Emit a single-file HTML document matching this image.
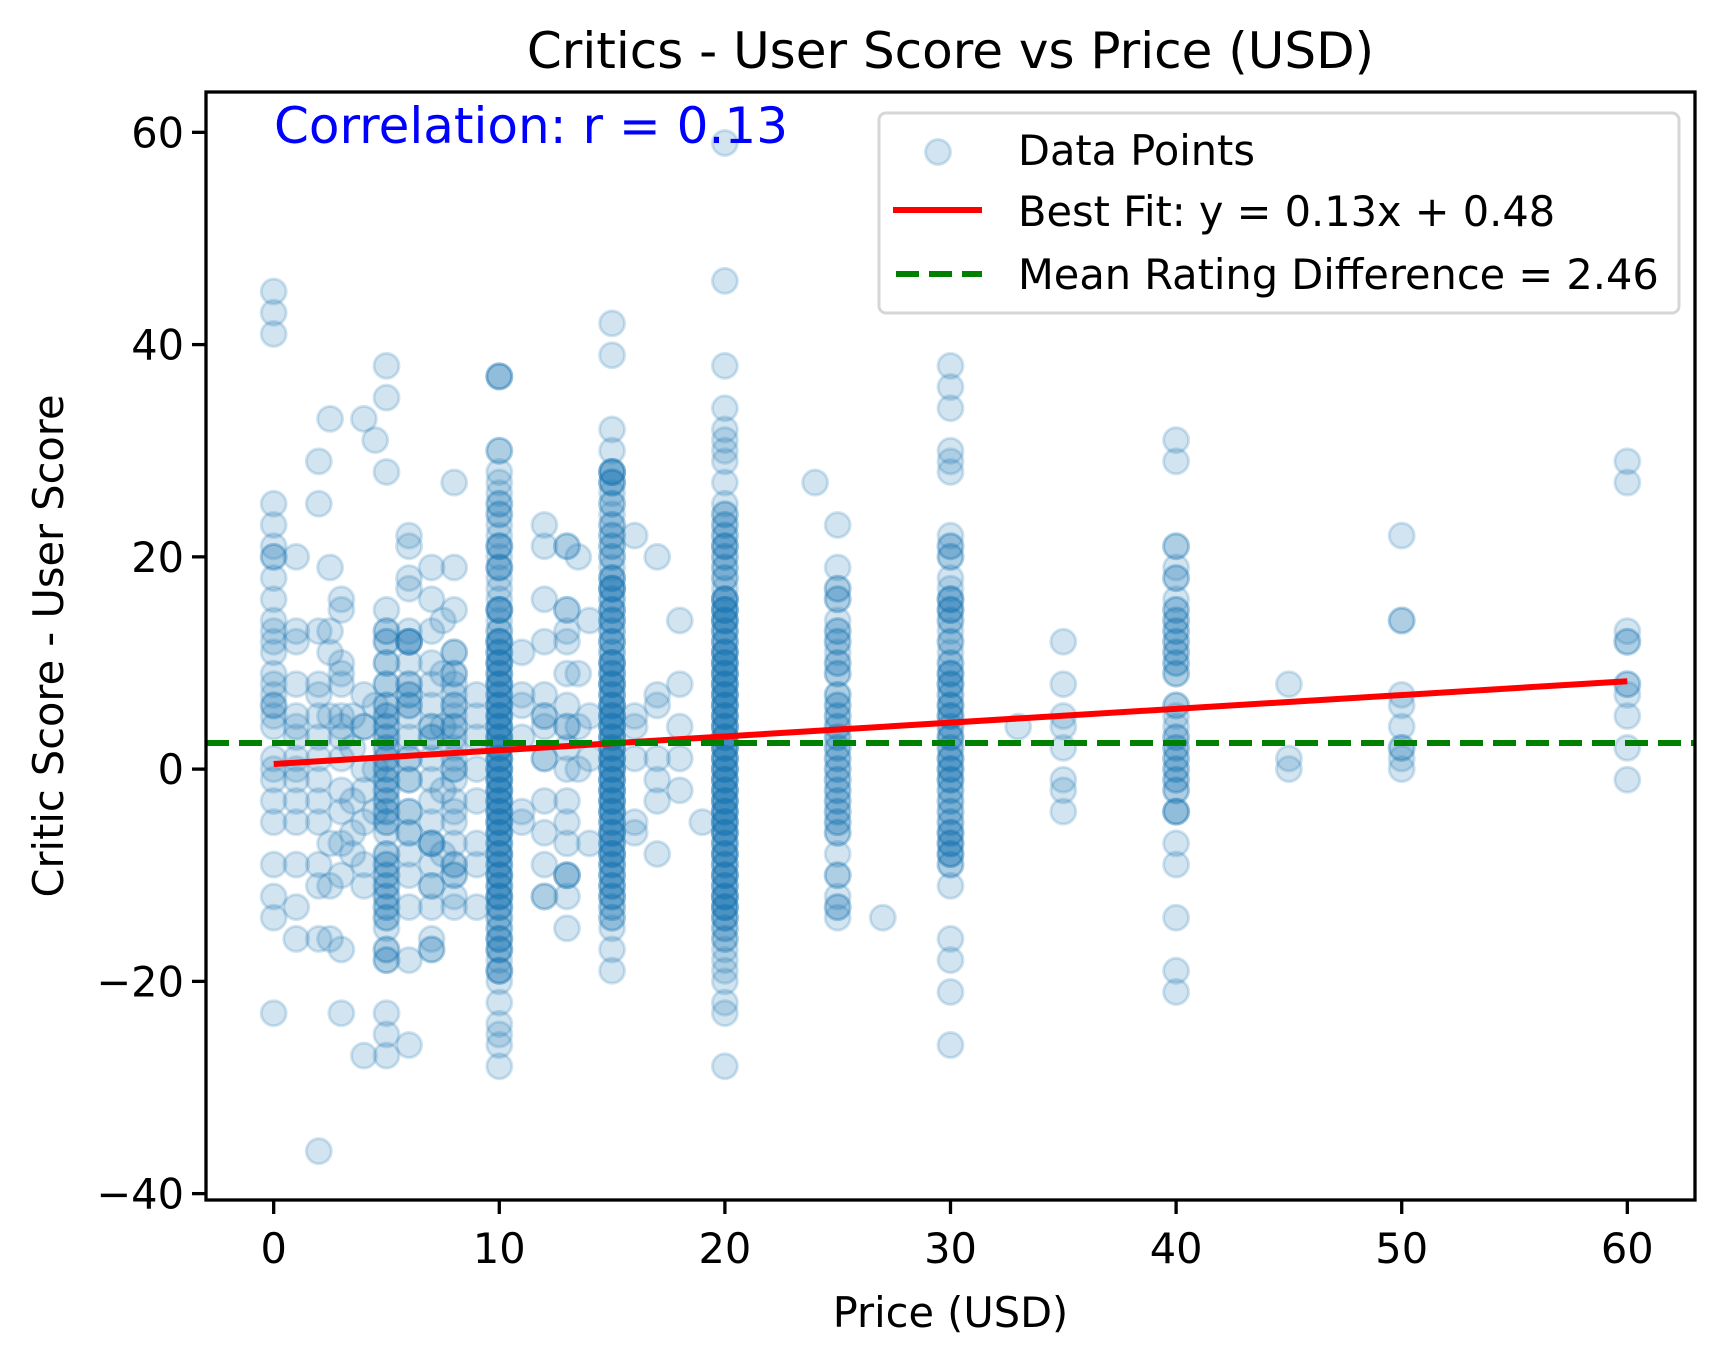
<!DOCTYPE html>
<html><head><meta charset="utf-8"><style>
body{margin:0;background:#fff}
svg text{font-family:"DejaVu Sans","Liberation Sans",sans-serif}
</style></head><body>
<svg id="chart" width="1723" height="1361" viewBox="0 0 1723 1361" xmlns="http://www.w3.org/2000/svg">
<rect width="1723" height="1361" fill="#fff"/>
<g id="points"></g>
<g id="lines"></g>
<g id="axes"></g>
</svg>
<script>
const prices = [0,1,2,2.5,3,3.5,4,4.5,5,6,7,7.5,8,9,10,11,12,13,13.5,14,15,16,17,18,19,20,24,25,27,30,33,35,40,45,50,60];
const scoreDiffs = [
[45,43,41,25,23,21,20,20,18,16,14,13,12,11,9,8,7,6,6,5,4,1,0,-1,-3,-5,-9,-12,-14,-23],
[20,13,12,8,5,4,3,1,0,-1,-3,-5,-9,-13,-16],
[29,25,13,8,7,5,3,1,-1,-3,-5,-9,-11,-16,-36],
[33,19,13,11,5,-7,-11,-16],
[16,15,10,9,8,5,4,3,1,-2,-4,-7,-10,-17,-23],
[5,2,-3,-6,-8],
[33,7,4,4,0,-2,-5,-9,-11,-27],
[31,6,0,-4],
[38,35,28,15,13,12,10,8,6,5,4,3,2,1,0,-1,-2,-3,-4,-5,-6,-8,-9,-10,-11,-12,-13,-14,-15,-17,-18,-23,-25,-27],
[22,21,18,17,13,12,12,10,8,7,6,5,3,1,-1,-4,-6,-8,-10,-13,-18,-26],
[19,16,13,10,8,6,4,3,1,-1,-3,-5,-7,-9,-11,-13,-16,-17],
[14,9,4,-2,-8],
[27,19,15,11,9,7,6,5,4,3,2,1,0,-1,-3,-5,-7,-9,-10,-12,-13],
[7,5,3,0,-3,-7,-9,-13],
[37,37,30,28,27,26,25,24,23,22,21,20,19,18,17,16,15,14,13,12,11,10,9,8,7,6,5,4,3,2,1,0,-1,-2,-3,-4,-5,-6,-7,-8,-9,-10,-11,-12,-13,-14,-15,-16,-17,-18,-19,-20,-22,-24,-25,-26,-28],
[11,7,6,3,-4,-5],
[23,21,16,12,7,5,4,1,-3,-6,-9,-12],
[21,15,13,12,9,6,4,2,0,-3,-5,-7,-10,-12,-15],
[20,9,4,0],
[14,5,1,-7],
[42,39,32,30,28,27,26,25,24,23,22,21,20,19,18,17,16,15,14,13,12,11,10,9,8,7,6,5,4,3,2,1,0,-1,-2,-3,-4,-5,-6,-7,-8,-9,-10,-11,-12,-13,-14,-15,-17,-19],
[22,5,4,1,-5,-6],
[20,7,6,1,-1,-3,-8],
[14,8,4,1,-2],
[-5],
[59,46,38,34,32,31,30,29,27,25,24,23,22,21,20,19,18,17,16,15,14,13,12,11,10,9,8,7,6,5,4,3,2,1,0,-1,-2,-3,-4,-5,-6,-7,-8,-9,-10,-11,-12,-13,-14,-15,-16,-17,-18,-19,-20,-22,-23,-28],
[27],
[23,19,17,16,14,13,12,11,10,9,7,6,5,4,3,2,1,0,-1,-2,-3,-4,-5,-6,-8,-10,-12,-13,-14],
[-14],
[38,36,34,30,29,28,22,21,20,18,17,16,15,14,13,12,11,10,9,8,7,6,5,4,3,2,1,0,-1,-2,-3,-4,-5,-6,-7,-8,-9,-11,-16,-18,-21,-26],
[4],
[12,8,5,4,2,-1,-2,-4],
[31,29,21,19,18,16,15,14,13,12,11,10,9,6,5,4,3,2,1,0,-1,-2,-4,-7,-9,-14,-19,-21],
[8,1,0],
[22,14,7,6,4,2,1,0],
[29,27,13,12,8,7,5,2,-1]
];
// repeated (overlapping) observations in the dense price columns
const extraPrices = [5,10,10,10,15,15,15,20,20,20,25,30,30,40,6,7,8,12,13,50,60];
const extraDiffs = [
[13,12,10,8,6,5,4,3,2,1,0,-1,-2,-3,-4,-5,-8,-9,-10,-11,-12,-13,-14,-17,-18],
[37,30,25,24,21,21,19,19,15,15,13,12,11,10,9,8,7,6,5,4,3,2,1,0,-1,-2,-3,-4,-5,-6,-7,-8,-9,-10,-11,-12,-13,-14,-15,-16,-17,-19],
[15,12,11,10,9,8,7,6,5,4,3,2,1,0,-1,-2,-3,-4,-5,-6,-7,-8,-9,-10,-11,-12,-13,-16,-17,-19],
[12,10,8,6,5,4,3,2,1,0,-1,-2,-3,-4,-5,-6,-8,-10,-12],
[28,27,25,23,22,21,20,18,17,16,15,14,13,12,11,10,9,8,7,6,5,4,3,2,1,0,-1,-2,-3,-4,-5,-6,-7,-8,-9,-10,-11,-12,-13,-14],
[28,27,18,17,15,14,12,10,9,8,7,6,5,4,3,2,1,0,-1,-2,-3,-4,-5,-6,-7,-8,-9,-10,-11,-12],
[28,17,10,8,6,5,4,3,2,1,0,-1,-2,-3,-4,-6,-8],
[23,22,21,20,19,18,16,15,14,13,12,11,10,9,8,7,6,5,4,3,2,1,0,-1,-2,-3,-4,-5,-6,-7,-8,-9,-10,-11,-12,-13,-14,-15,-16],
[24,21,16,15,14,13,12,11,10,9,8,7,6,5,4,3,2,1,0,-1,-2,-3,-4,-5,-6,-7,-8,-9,-10,-11,-12,-13,-14],
[16,15,14,11,10,9,8,7,6,5,4,3,2,1,0,-1,-2,-3,-4,-5,-6,-8,-10,-12,-13],
[17,16,13,12,10,9,7,6,5,4,3,2,1,0,-1,-2,-3,-4,-5,-6,-10,-13],
[21,20,16,15,14,12,10,9,8,7,6,5,4,3,2,1,0,-1,-2,-3,-4,-5,-6,-7,-8,-9],
[16,15,9,8,6,5,3,1,0,-1,-6,-7,-8],
[21,18,15,14,13,12,11,10,9,6,3,2,1,0,-1,-2,-4,-4],
[12,12,8,7,6,1,-1,-4,-6],
[4,3,-7,-7,-11,-17],
[11,9,8,6,4,0,-4,-9,-10],
[5,-12,1],
[21,15,-10,-10,4],
[14,2],
[12,8]
];
const fitSlope = 0.13, fitIntercept = 0.48, meanDiff = 2.46, corrR = 0.13;
const xTicks = [0,10,20,30,40,50,60];
const yTicks = [-40,-20,0,20,40,60];

const NS = "http://www.w3.org/2000/svg";
const L=206,R=1695,T=92,B=1200;
const xMin=-3, xMax=63, yMin=-40.6, yMax=63.8;
const sx = v => L + (v - xMin) / (xMax - xMin) * (R - L);
const sy = v => B - (v - yMin) / (yMax - yMin) * (B - T);
function mk(tag, attrs, parent){const e=document.createElementNS(NS,tag);for(const k in attrs)e.setAttribute(k,attrs[k]);parent.appendChild(e);return e;}
const svg=document.getElementById('chart');
const gP=document.getElementById('points'), gL=document.getElementById('lines'), gA=document.getElementById('axes');

function drawPoints(px, py){
  px.forEach((p,i)=>{py[i].forEach(v=>{
    const c=mk('circle',{cx:sx(p),cy:sy(v),r:12.5,fill:'rgba(31,119,180,0.2)',stroke:'rgba(31,119,180,0.2)','stroke-width':3},gP);
    
    
  });});
}
drawPoints(prices, scoreDiffs);
drawPoints(extraPrices, extraDiffs);

const clip=mk('clipPath',{id:'clip'},svg); mk('rect',{x:L,y:T,width:R-L,height:B-T},clip);
gL.setAttribute('clip-path','url(#clip)');
const fit=mk('line',{x1:sx(0),y1:sy(fitIntercept),x2:sx(60),y2:sy(fitSlope*60+fitIntercept),stroke:'#ff0000','stroke-width':6},gL);


const mean=mk('line',{x1:L,y1:sy(meanDiff),x2:R,y2:sy(meanDiff),stroke:'#008000','stroke-width':6,'stroke-dasharray':'23 10'},gL);



const frame=mk('rect',{x:L,y:T,width:R-L,height:B-T,fill:'none',stroke:'#000','stroke-width':3.3},gA);


xTicks.forEach(t=>{
  mk('line',{x1:sx(t),y1:B,x2:sx(t),y2:B+14,stroke:'#000','stroke-width':3.3},gA);
  const tx=mk('text',{x:sx(t),y:1263,'text-anchor':'middle','font-size':41.5},gA); tx.textContent=t;
  
  
});
yTicks.forEach(t=>{
  mk('line',{x1:L-14,y1:sy(t),x2:L,y2:sy(t),stroke:'#000','stroke-width':3.3},gA);
  const tx=mk('text',{x:L-22,y:sy(t)+15,'text-anchor':'end','font-size':41.5},gA); tx.textContent=(t<0?'\u2212'+(-t):t);
  
  
});
const title=mk('text',{x:(L+R)/2,y:68,'text-anchor':'middle','font-size':50},gA); title.textContent='Critics - User Score vs Price (USD)';


const xl=mk('text',{x:(L+R)/2,y:1327,'text-anchor':'middle','font-size':41.5},gA); xl.textContent='Price (USD)';


const yl=mk('text',{x:0,y:0,'text-anchor':'middle','font-size':41.5,transform:'translate(63,646) rotate(-90)'},gA); yl.textContent='Critic Score - User Score';


const corr=mk('text',{x:274,y:143,'font-size':50,fill:'#0000ff'},gA); corr.textContent='Correlation: r = '+corrR.toFixed(2);



const lg=mk('g',{},gA);


mk('rect',{x:879,y:113,width:800,height:200,rx:7,fill:'rgba(255,255,255,0.8)',stroke:'#d6d6d6','stroke-width':3},lg);
mk('circle',{cx:938,cy:152,r:12.5,fill:'rgba(31,119,180,0.2)',stroke:'rgba(31,119,180,0.2)','stroke-width':3},lg);
mk('line',{x1:893,y1:210,x2:982,y2:210,stroke:'#ff0000','stroke-width':6},lg);
mk('line',{x1:896,y1:274,x2:982,y2:274,stroke:'#008000','stroke-width':6,'stroke-dasharray':'23 10'},lg);
const labels=['Data Points','Best Fit: y = '+fitSlope.toFixed(2)+'x + '+fitIntercept.toFixed(2),'Mean Rating Difference = '+meanDiff.toFixed(2)];
[165,226,289].forEach((y,i)=>{const t=mk('text',{x:1018,y:y,'font-size':41.5},lg);t.textContent=labels[i];
  
  });
</script>
</body></html>
